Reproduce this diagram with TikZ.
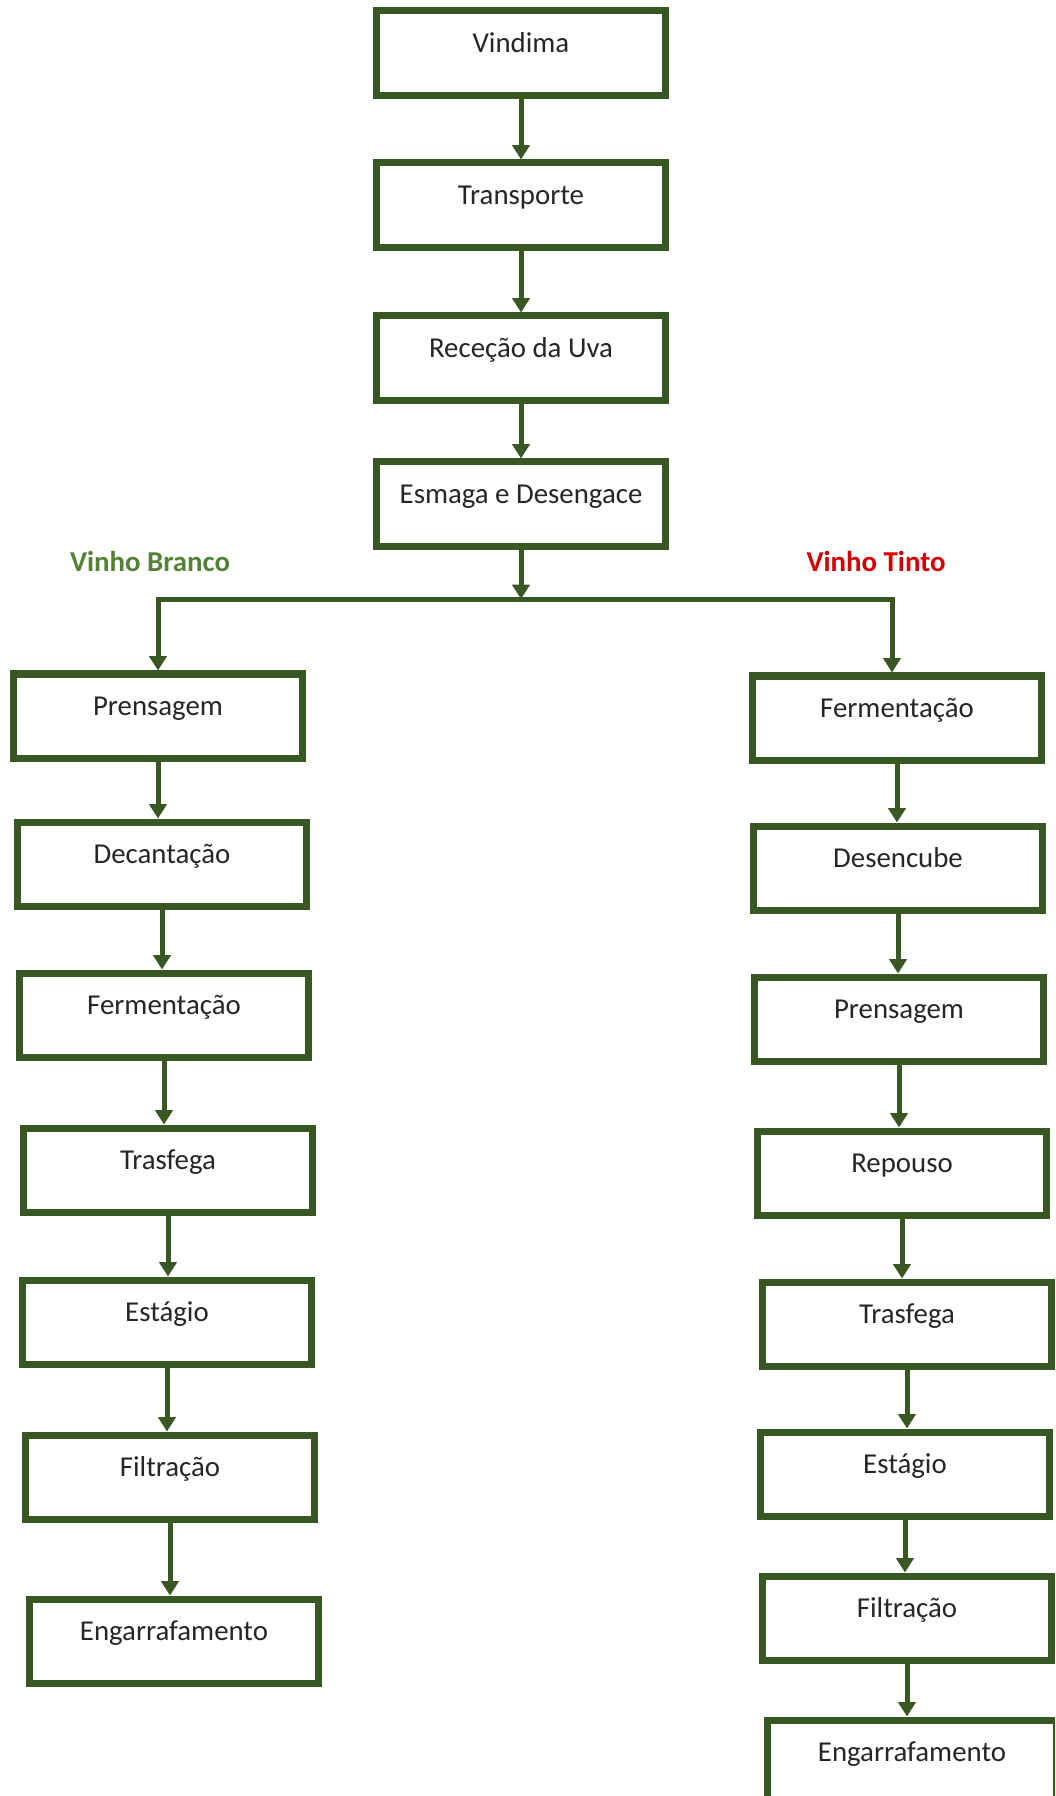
\documentclass[tikz,border=0pt]{standalone}
\usepackage{fontspec}
\setmainfont{Carlito}
\usetikzlibrary{arrows.meta}
\definecolor{verdeescuro}{RGB}{56,87,35}
\definecolor{verdetexto}{RGB}{84,130,53}
\definecolor{vermelho}{RGB}{210,0,0}

\begin{document}
\begin{tikzpicture}[x=0.025cm, y=-0.025cm,
    etapa/.style={draw=verdeescuro, line width=0.175cm, rectangle, fill=white,
      minimum width=7.2cm, minimum height=2.1cm, inner sep=0pt,
      text height=0.475cm, text depth=0.52cm, text=black!85,
      font=\fontsize{20.5}{24}\selectfont},
    seta/.style={verdeescuro, line width=0.125cm, -{Triangle[width=0.43cm,length=0.36cm]}},
    ramo/.style={font=\fontsize{20.5}{24}\selectfont\bfseries}]

    % page frame
    \useasboundingbox (0,0) rectangle (1055,1796);
    \clip (0,0) rectangle (1055,1796);

    % draw common steps
    \node[etapa] (vindima)    at (521,53)  {Vindima};
    \node[etapa] (transporte) at (521,205) {Transporte};
    \node[etapa] (rececao)    at (521,358) {Receção da Uva};
    \node[etapa] (esmaga)     at (521,504) {Esmaga e Desengace};

    % draw branch labels
    \node[ramo, text=verdetexto] (branco) at (150,561) {Vinho Branco};
    \node[ramo, text=vermelho]   (tinto)  at (876,561) {Vinho Tinto};

    % draw white wine steps
    \node[etapa] (prensagemB)  at (158,716)  {Prensagem};
    \node[etapa] (decantacao)  at (162,864)  {Decantação};
    \node[etapa] (fermB)       at (164,1015) {Fermentação};
    \node[etapa] (trasfegaB)   at (168,1170) {Trasfega};
    \node[etapa] (estagioB)    at (167,1322) {Estágio};
    \node[etapa] (filtracaoB)  at (170,1477) {Filtração};
    \node[etapa] (engarrB)     at (174,1641) {Engarrafamento};

    % draw red wine steps
    \node[etapa] (fermT)       at (897,718)  {Fermentação};
    \node[etapa] (desencube)   at (898,868)  {Desencube};
    \node[etapa] (prensagemT)  at (899,1019) {Prensagem};
    \node[etapa] (repouso)     at (902,1173) {Repouso};
    \node[etapa] (trasfegaT)   at (907,1324) {Trasfega};
    \node[etapa] (estagioT)    at (905,1474) {Estágio};
    \node[etapa] (filtracaoT)  at (907,1618) {Filtração};
    \node[etapa] (engarrT)     at (912,1762) {Engarrafamento};

    % draw arrows
    \foreach \a/\b in {vindima/transporte, transporte/rececao, rececao/esmaga,
        prensagemB/decantacao, decantacao/fermB, fermB/trasfegaB,
        trasfegaB/estagioB, estagioB/filtracaoB, filtracaoB/engarrB,
        fermT/desencube, desencube/prensagemT, prensagemT/repouso,
        repouso/trasfegaT, trasfegaT/estagioT, estagioT/filtracaoT,
        filtracaoT/engarrT}
      \draw[seta] (\a.south) -- (\a.south |- \b.north);

    % draw split
    \coordinate (divisao) at (521,599);
    \coordinate (ramoT) at (892,599);
    \draw[seta] (esmaga.south) -- (divisao);
    \draw[seta] (divisao) -| (prensagemB.north);
    \draw[seta] (divisao) -- (ramoT) -- (ramoT |- fermT.north);
\end{tikzpicture}
\end{document}
